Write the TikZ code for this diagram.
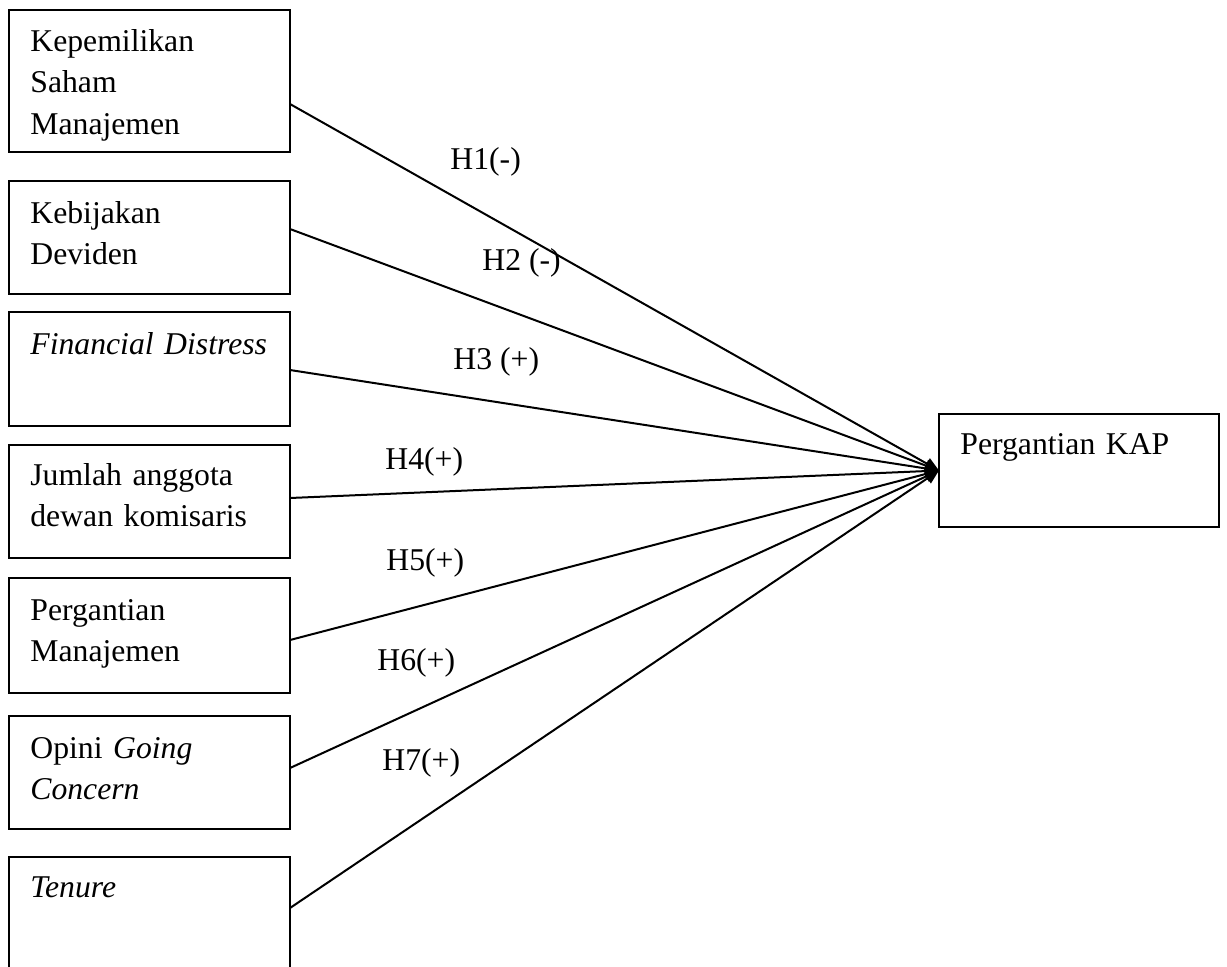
\documentclass[tikz,border=0pt]{standalone}
\usepackage{fontspec}
\setmainfont{Liberation Serif}
\usetikzlibrary{arrows.meta,calc}
\begin{document}
\begin{tikzpicture}[x=0.5pt,y=-0.5pt,
  vbox/.style={draw,line width=0.9pt,inner sep=0pt,outer sep=0pt,anchor=north west,minimum width=140.5pt},
  txt/.style={anchor=base west,inner sep=0pt,text width=135pt,align=left,font=\fontsize{15.85pt}{20.8pt}\selectfont},
  hyp/.style={anchor=base west,inner sep=0pt,font=\fontsize{15.85pt}{20.8pt}\selectfont},
  conn/.style={line width=1pt,-{Triangle[length=7pt,width=6pt]}}]
\useasboundingbox (0,0) rectangle (1227,966);
\clip (0,0) rectangle (1227,966);
% boxes
\node[vbox,minimum height=71pt] (b1) at (9,10) {};
\node[vbox,minimum height=56.5pt] (b2) at (9,181) {};
\node[vbox,minimum height=57pt] (b3) at (9,312) {};
\node[vbox,minimum height=56.5pt] (b4) at (9,445) {};
\node[vbox,minimum height=57.5pt] (b5) at (9,578) {};
\node[vbox,minimum height=56.5pt] (b6) at (9,716) {};
\node[vbox,minimum height=70pt] (b7) at (9,857) {};
\node[vbox,minimum width=140pt,minimum height=56.5pt] (t) at (939,414) {};
% box texts
\node[txt] (x1) at (30,51) {Kepemilikan\\Saham\\Manajemen};
\node[txt] (x2) at (30,223) {Kebijakan\\Deviden};
\node[txt] (x3) at (30,354) {\textit{Financial Distress}};
\node[txt] (x4) at (30,485) {Jumlah anggota\\dewan komisaris};
\node[txt] (x5) at (30,620) {Pergantian\\Manajemen};
\node[txt] (x6) at (30,758) {Opini \textit{Going}\\\textit{Concern}};
\node[txt] (x7) at (30,897) {\textit{Tenure}};
\node[txt] (xt) at (960,454) {Pergantian KAP};
% connectors
\draw[conn] ($(b1.north east)+(0,94)$) -- (t.west);
\draw[conn] ($(b2.north east)+(0,48)$) -- (t.west);
\draw[conn] ($(b3.north east)+(0,58)$) -- (t.west);
\draw[conn] ($(b4.north east)+(0,53)$) -- (t.west);
\draw[conn] ($(b5.north east)+(0,62)$) -- (t.west);
\draw[conn] ($(b6.north east)+(0,52)$) -- (t.west);
\draw[conn] ($(b7.north east)+(0,51)$) -- (t.west);
% labels
\node[hyp] (h1) at (450,169) {H1(-)};
\node[hyp] (h2) at (482,270) {H2 (-)};
\node[hyp] (h3) at (453,369) {H3 (+)};
\node[hyp] (h4) at (385,469) {H4(+)};
\node[hyp] (h5) at (386,570) {H5(+)};
\node[hyp] (h6) at (377,670) {H6(+)};
\node[hyp] (h7) at (382,770) {H7(+)};
\end{tikzpicture}
\end{document}
